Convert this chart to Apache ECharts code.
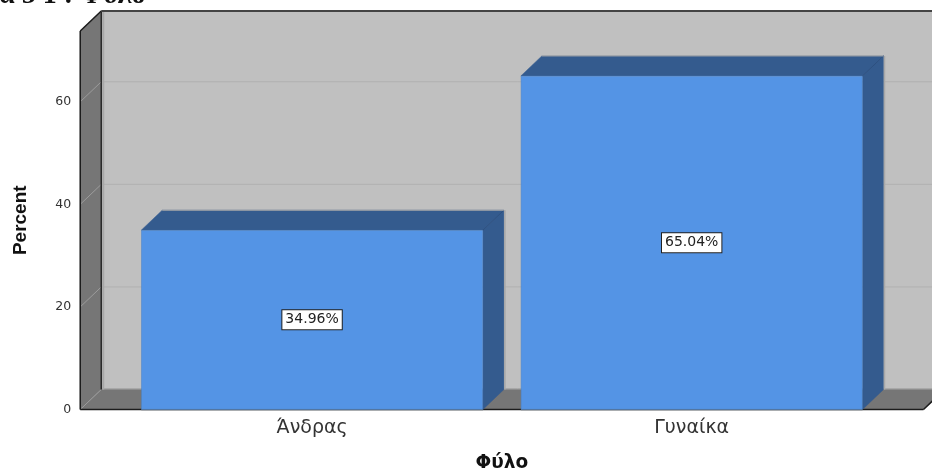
<!DOCTYPE html>
<html><head><meta charset="utf-8">
<style>html,body{margin:0;padding:0;background:#fff}#c{width:932px;height:471px}</style>
<script src="https://cdn.jsdelivr.net/npm/echarts@6/dist/echarts.min.js"></script>
</head><body><div id="c"></div>
<script>
const categories = ['Άνδρας', 'Γυναίκα'];
const percentValues = [34.96, 65.04];
const yTicks = [0, 20, 40, 60];
const clippedTitle = 'α 5 1 : Φύλο';
const xAxisTitle = 'Φύλο';
const yAxisTitle = 'Percent';

const DX = 21, DY = -20, PAD = 42;
const poly = (pts, fill, stroke, lw) => ({type:'polygon', shape:{points:pts}, style:{fill, stroke:stroke||fill, lineWidth:lw||0.5}});
const line = (a, b, color, lw) => ({type:'line', shape:{x1:a[0],y1:a[1],x2:b[0],y2:b[1]}, style:{stroke:color, lineWidth:lw||1}});

function renderWalls(params, api) {
  const cs = params.coordSys;
  const L = cs.x - PAD, R = cs.x + cs.width + PAD;
  const B = api.coord([0, 0])[1], T = cs.y;
  const ch = [];
  ch.push(poly([[L+DX,T+DY],[R+DX,T+DY],[R+DX,B+DY],[L+DX,B+DY]], '#c0c0c0'));
  ch.push(poly([[L,T],[L+DX,T+DY],[L+DX,B+DY],[L,B]], '#767676'));
  ch.push(poly([[L,B],[L+DX,B+DY],[R+DX,B+DY],[R,B]], '#767676'));
  yTicks.filter(v => v > 0).forEach(v => {
    const y = api.coord([0, v])[1];
    ch.push(line([L,y],[L+DX,y+DY], '#9c9c9c', 1));
    ch.push(line([L+DX,y+DY],[R+DX,y+DY], '#b0b0b0', 1));
  });
  ch.push(line([L,B],[L+DX,B+DY], '#9c9c9c', 1));
  ch.push(line([L+DX+2,T+DY],[L+DX+2,B+DY], '#a8a8a8', 2));
  ch.push(line([L+DX,B+DY-1],[R+DX,B+DY-1], '#a8a8a8', 1));
  ch.push(line([L,T],[L,B], '#1c1c1c', 1.5));
  ch.push(line([L,T],[L+DX,T+DY], '#1c1c1c', 1.5));
  ch.push(line([L+DX,T+DY],[L+DX,B+DY], '#2a2a2a', 1.5));
  ch.push(line([L+DX,T+DY],[R+DX,T+DY], '#444', 2));
  ch.push(line([L,B],[R,B], '#1c1c1c', 1.5));
  ch.push(line([R,B],[R+DX,B+DY], '#1c1c1c', 1.5));
  return {type:'group', children: ch};
}

function renderDepth(params, api) {
  const c = api.coord([api.value(0), api.value(1)]);
  const base = api.coord([api.value(0), 0])[1];
  const w = api.size([1, 0])[0] * 0.9;
  const x0 = c[0] - w/2, x1 = c[0] + w/2, y = c[1];
  return {type:'group', children:[
    poly([[x0,y],[x0+DX,y+DY],[x1+DX,y+DY],[x1,y]], '#345b8e'),
    poly([[x1,y],[x1+DX,y+DY],[x1+DX,base+DY],[x1,base]], '#345b8e'),
    line([x1,y],[x1+DX,y+DY], '#2d5080', 1),
    line([x0+DX,y+DY],[x1+DX,y+DY], '#a8a8a8', 1),
    line([x1+DX+1,y+DY],[x1+DX+1,base+DY], '#a8a8a8', 1.5),
    line([x0,base],[x1,base], '#5a6470', 1.5)
  ]};
}

const chart = echarts.init(document.getElementById('c'), null, {renderer:'canvas'});
chart.setOption({
  animation:false,
  backgroundColor:'#fff',
  title:{text:clippedTitle, left:-1, top:-18, padding:0,
    textStyle:{fontFamily:'Liberation Serif', fontWeight:'bold', fontSize:28, color:'#111'}},
  grid:{left:122.25, width:759.25, top:31, bottom:61.5, outerBoundsMode:'none'},
  xAxis:{type:'category', data:categories, boundaryGap:true,
    name:xAxisTitle, nameLocation:'middle', nameGap:44,
    nameTextStyle:{fontFamily:'DejaVu Sans', fontWeight:'bold', fontSize:18.5, color:'#111'},
    axisLine:{show:false},
    axisTick:{show:false},
    axisLabel:{fontFamily:'DejaVu Sans', fontSize:19, color:'#333', margin:9}},
  yAxis:{type:'value', min:0, max:73.8, interval:20, offset:PAD,
    name:yAxisTitle, nameLocation:'middle', nameGap:50, nameRotate:90,
    nameTextStyle:{fontFamily:'Liberation Sans', fontWeight:'bold', fontSize:19, color:'#111'},
    axisLine:{show:false}, axisTick:{show:false}, splitLine:{show:false},
    axisLabel:{showMaxLabel:false, fontFamily:'DejaVu Sans', fontSize:12.5, color:'#333', margin:9, padding:[9,0,0,0]}},
  series:[
    {type:'custom', z:1, clip:false, silent:true, data:[[0,0]], renderItem:renderWalls, encode:{x:0,y:1}},
    {type:'custom', z:2, clip:false, silent:true,
      data:percentValues.map((v,i)=>[i,v]), renderItem:renderDepth, encode:{x:0,y:1}},
    {type:'bar', z:3, barWidth:'90%', data:percentValues,
      itemStyle:{color:'#5494e5', borderColor:'#4a80c4', borderWidth:0.5},
      label:{show:true, position:'inside', formatter:p=>p.value.toFixed(2)+'%',
        fontFamily:'DejaVu Sans', fontSize:14, color:'#222', backgroundColor:'#fff',
        borderColor:'#222', borderWidth:1, padding:[3,3,2,3]}}
  ]
});
</script></body></html>
